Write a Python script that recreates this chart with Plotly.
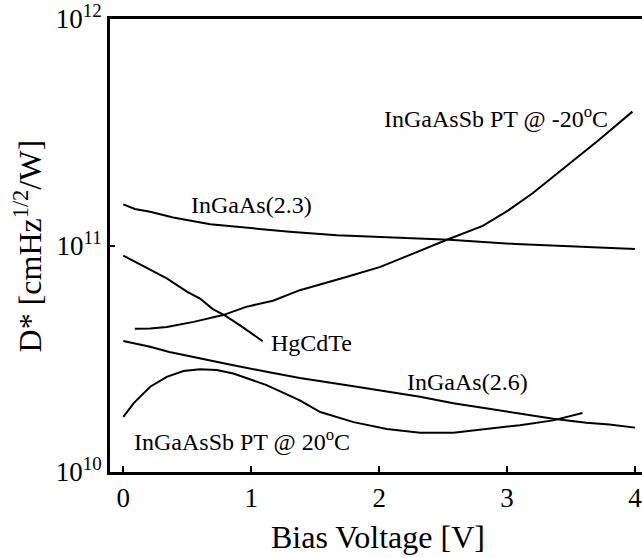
import plotly.graph_objects as go

# ---- data ----
ingaas23_x = [0.0, 0.09, 0.21, 0.39, 0.68, 0.99, 1.30, 1.67, 2.06, 2.55, 3.07, 3.59, 4.0]
ingaas23_y = [1.52e11, 1.45e11, 1.41e11, 1.33e11, 1.24e11, 1.19e11, 1.15e11, 1.11e11,
              1.09e11, 1.06e11, 1.015e11, 0.986e11, 0.964e11]

sb_m20_x = [0.09, 0.21, 0.34, 0.55, 0.78, 0.96, 1.17, 1.38, 1.75, 2.01, 2.27, 2.53,
            2.81, 3.01, 3.20, 3.46, 3.72, 3.98]
sb_m20_y = [4.29e10, 4.30e10, 4.37e10, 4.60e10, 4.93e10, 5.36e10, 5.70e10, 6.35e10,
            7.28e10, 8.05e10, 9.23e10, 1.06e11, 1.22e11, 1.43e11, 1.70e11, 2.23e11,
            2.93e11, 3.90e11]

hgcdte_x = [0.0, 0.21, 0.34, 0.50, 0.60, 0.70, 0.79, 0.91, 1.09]
hgcdte_y = [9.02e10, 7.78e10, 7.16e10, 6.24e10, 5.83e10, 5.24e10, 4.93e10, 4.45e10, 3.78e10]

ingaas26_x = [0.0, 0.21, 0.36, 0.60, 0.86, 1.12, 1.38, 1.80, 2.06, 2.32, 2.58, 2.84,
              3.10, 3.36, 3.62, 3.80, 4.00]
ingaas26_y = [3.79e10, 3.57e10, 3.39e10, 3.17e10, 2.96e10, 2.77e10, 2.60e10, 2.39e10,
              2.26e10, 2.15e10, 2.01e10, 1.91e10, 1.81e10, 1.72e10, 1.65e10, 1.62e10, 1.57e10]

sb_20_x = [0.0, 0.08, 0.21, 0.34, 0.47, 0.60, 0.73, 0.86, 1.12, 1.38, 1.54, 1.80, 2.06,
           2.32, 2.58, 2.84, 3.10, 3.36, 3.59]
sb_20_y = [1.75e10, 2.01e10, 2.38e10, 2.63e10, 2.79e10, 2.84e10, 2.82e10, 2.72e10,
           2.42e10, 2.07e10, 1.84e10, 1.66e10, 1.55e10, 1.49e10, 1.49e10, 1.55e10,
           1.61e10, 1.69e10, 1.82e10]

x_ticks = [0, 1, 2, 3, 4]
y_ticks = [1e10, 1e11, 1e12]
y_tick_text = ["10<sup>10</sup>", "10<sup>11</sup>", "10<sup>12</sup>"]

labels = ["InGaAs(2.3)", "InGaAsSb PT @ -20<sup>o</sup>C", "HgCdTe", "InGaAs(2.6)",
          "InGaAsSb PT @ 20<sup>o</sup>C"]
label_x = [1.00, 2.91, 1.47, 2.69, 0.93]
label_logy = [11.178, 11.567, 10.568, 10.398, 10.140]

FONT = "Times New Roman, Liberation Serif, Tinos, serif"

fig = go.Figure()
for xs, ys in [(ingaas23_x, ingaas23_y), (sb_m20_x, sb_m20_y), (hgcdte_x, hgcdte_y),
               (ingaas26_x, ingaas26_y), (sb_20_x, sb_20_y)]:
    fig.add_trace(go.Scatter(x=xs, y=ys, mode="lines", hoverinfo="skip",
                             line=dict(color="black", width=2), showlegend=False))

for t, xv, yv in zip(labels, label_x, label_logy):
    fig.add_annotation(x=xv, y=yv, xref="x", yref="y", text=t, showarrow=False,
                       xanchor="center", yanchor="middle",
                       font=dict(family=FONT, size=24, color="black"))

# axis titles
fig.add_annotation(x=1.99, y=-0.1435, xref="x", yref="paper", text="Bias Voltage [V]",
                   xanchor="center", yanchor="middle",
                   showarrow=False, font=dict(family=FONT, size=32, color="black"))
fig.add_annotation(x=-0.154, y=0.498, xref="paper", yref="paper",
                   xanchor="center", yanchor="middle",
                   text="D* [cmHz<sup>1/2</sup>/W]", textangle=-90, showarrow=False,
                   font=dict(family=FONT, size=32, color="black"))

fig.update_layout(
    width=642, height=558,
    margin=dict(l=110, r=0, t=19, b=86),
    plot_bgcolor="white", paper_bgcolor="white",
    font=dict(family=FONT, color="black"),
    hovermode=False,
)
fig.update_xaxes(range=[-0.104, 4.055], tickvals=x_ticks, ticks="inside", ticklen=6,
                 tickwidth=2, tickcolor="black", showline=True, linewidth=3,
                 linecolor="black", mirror=True, showgrid=False, zeroline=False,
                 ticklabeloverflow="allow",
                 tickfont=dict(family=FONT, size=27, color="black"))
fig.update_yaxes(type="log", range=[10, 12], tickvals=y_ticks, ticktext=y_tick_text,
                 ticks="inside", ticklen=5, tickwidth=2, tickcolor="black",
                 showline=True, linewidth=3, linecolor="black", mirror=False,
                 showgrid=False, zeroline=False, ticklabeloverflow="allow",
                 tickfont=dict(family=FONT, size=27, color="black"))

fig.write_html("out.html", config={"displayModeBar": False},
               post_script="document.body.style.margin='0';")
